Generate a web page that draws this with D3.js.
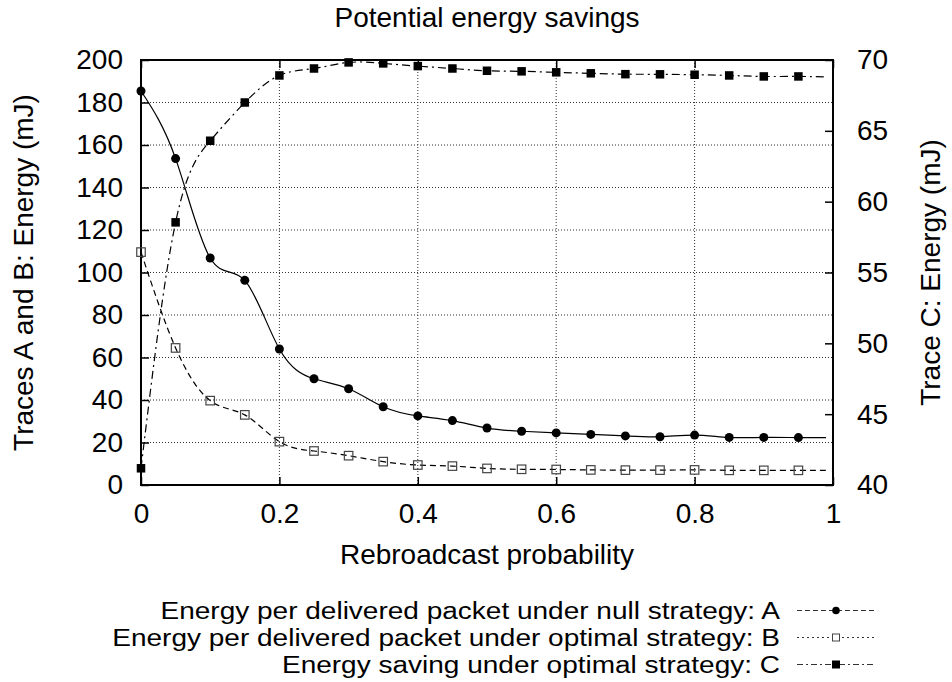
<!DOCTYPE html>
<html>
<head>
<meta charset="utf-8">
<script src="https://cdn.jsdelivr.net/npm/d3@7"></script>
<style>
  html, body { margin: 0; padding: 0; background: #fff; }
  svg { display: block; }
  text { font-family: "Liberation Sans", Arial, Helvetica, sans-serif; fill: #000; }
</style>
</head>
<body>
<svg id="chart" width="952" height="682"></svg>
<script>
// ---------------- data ----------------
const probabilities = [0, 0.05, 0.1, 0.15, 0.2, 0.25, 0.3, 0.35, 0.4, 0.45, 0.5, 0.55, 0.6, 0.65, 0.7, 0.75, 0.8, 0.85, 0.9, 0.95];
// Trace A: energy per delivered packet under null strategy (left axis, mJ)
const traceA = [185.4, 153.6, 106.8, 96.3, 64.0, 50.0, 45.3, 36.8, 32.5, 30.3, 26.8, 25.3, 24.5, 23.8, 23.1, 22.7, 23.5, 22.4, 22.4, 22.3];
// Trace B: energy per delivered packet under optimal strategy (left axis, mJ)
const traceB = [109.6, 64.5, 39.7, 33.0, 20.4, 16.0, 13.8, 11.0, 9.4, 8.9, 7.8, 7.4, 7.3, 7.1, 7.0, 7.0, 7.1, 6.9, 6.9, 6.9];
// Trace C: energy saving under optimal strategy (right axis, mJ)
const traceC = [41.18, 58.54, 64.3, 67.0, 68.91, 69.4, 69.83, 69.76, 69.57, 69.4, 69.24, 69.2, 69.13, 69.06, 69.0, 68.99, 68.96, 68.91, 68.84, 68.84];
// curves continue slightly past the last marker
const tailX = 0.99;
const tailA = 22.3, tailB = 6.9, tailC = 68.8;

const xTicks = [0, 0.2, 0.4, 0.6, 0.8, 1];
const xTickLabels = ["0", "0.2", "0.4", "0.6", "0.8", "1"];
const yLeftTicks = [0, 20, 40, 60, 80, 100, 120, 140, 160, 180, 200];
const yRightTicks = [40, 45, 50, 55, 60, 65, 70];

const titleText = "Potential energy savings";
const xLabel = "Rebroadcast probability";
const yLeftLabel = "Traces A and B: Energy (mJ)";
const yRightLabel = "Trace C: Energy (mJ)";
const legendLabels = [
  "Energy per delivered packet under null strategy: A",
  "Energy per delivered packet under optimal strategy: B",
  "Energy saving under optimal strategy: C"
];

// ---------------- layout ----------------
const FS = 28;
const L = 141, R = 833, T = 60, B = 485;
const svg = d3.select("#chart");
svg.append("rect").attr("width", 952).attr("height", 682).attr("fill", "#fff");

const x = d3.scaleLinear().domain([0, 1]).range([L, R]);
const yL = d3.scaleLinear().domain([0, 200]).range([B, T]);
const yR = d3.scaleLinear().domain([40, 70]).range([B, T]);

// grid
const grid = svg.append("g").attr("class", "grid");
grid.selectAll("line.gx").data(xTicks.filter(d => d > 0 && d < 1)).join("line")
  .attr("x1", d => x(d)).attr("x2", d => x(d)).attr("y1", T).attr("y2", B)
  .attr("stroke", "#333").attr("stroke-width", 1).attr("stroke-dasharray", "1,2");
grid.selectAll("line.gy").data(yLeftTicks.filter(d => d > 0 && d < 200)).join("line")
  .attr("x1", L).attr("x2", R).attr("y1", d => yL(d)).attr("y2", d => yL(d))
  .attr("stroke", "#333").attr("stroke-width", 1).attr("stroke-dasharray", "1,2");

// axes
function styleAxis(g) {
  g.select(".domain").remove();
  g.selectAll(".tick line").attr("stroke", "#000").attr("stroke-width", 1.5);
  g.selectAll(".tick text").attr("font-size", FS).attr("font-family", "Liberation Sans, Arial, sans-serif");
}
svg.append("g").attr("transform", `translate(${L},0)`)
  .call(d3.axisLeft(yL).tickValues(yLeftTicks).tickFormat(d3.format("d")).tickSizeInner(-8).tickSizeOuter(0).tickPadding(18))
  .call(styleAxis);
svg.append("g").attr("transform", `translate(${R},0)`)
  .call(d3.axisRight(yR).tickValues(yRightTicks).tickFormat(d3.format("d")).tickSizeInner(-8).tickSizeOuter(0).tickPadding(24))
  .call(styleAxis);
svg.append("g").attr("transform", `translate(0,${B})`)
  .call(d3.axisBottom(x).tickValues(xTicks).tickFormat((d, i) => xTickLabels[i]).tickSizeInner(-8).tickSizeOuter(0).tickPadding(18))
  .call(styleAxis);
svg.append("g").attr("transform", `translate(0,${T})`)
  .call(d3.axisTop(x).tickValues(xTicks).tickFormat("").tickSizeInner(-8).tickSizeOuter(0))
  .call(styleAxis);

// border
svg.append("rect").attr("x", L).attr("y", T).attr("width", R - L).attr("height", B - T)
  .attr("fill", "none").attr("stroke", "#000").attr("stroke-width", 2);

// series
const xsLine = probabilities.concat([tailX]);
function series(vals, tail, scale) {
  return xsLine.map((p, i) => [x(p), scale(i < vals.length ? vals[i] : tail)]);
}
const line = d3.line().curve(d3.curveNatural);
const plot = svg.append("g");
plot.append("path").attr("d", line(series(traceA, tailA, yL)))
  .attr("fill", "none").attr("stroke", "#000").attr("stroke-width", 1.2);
plot.append("path").attr("d", line(series(traceB, tailB, yL)))
  .attr("fill", "none").attr("stroke", "#000").attr("stroke-width", 1.2).attr("stroke-dasharray", "6,4");
plot.append("path").attr("d", line(series(traceC, tailC, yR)))
  .attr("fill", "none").attr("stroke", "#000").attr("stroke-width", 1.2).attr("stroke-dasharray", "8,4,2,4");

// markers
plot.selectAll("circle.a").data(probabilities).join("circle")
  .attr("cx", d => x(d)).attr("cy", (d, i) => yL(traceA[i])).attr("r", 4.5).attr("fill", "#000");
const sB = 8.5;
plot.selectAll("rect.b").data(probabilities).join("rect")
  .attr("x", d => x(d) - sB / 2).attr("y", (d, i) => yL(traceB[i]) - sB / 2)
  .attr("width", sB).attr("height", sB).attr("fill", "none").attr("stroke", "#444").attr("stroke-width", 1.2);
const sC = 8.5;
plot.selectAll("rect.c").data(probabilities).join("rect")
  .attr("x", d => x(d) - sC / 2).attr("y", (d, i) => yR(traceC[i]) - sC / 2)
  .attr("width", sC).attr("height", sC).attr("fill", "#000");

// titles
svg.append("text").attr("x", (L + R) / 2).attr("y", 27).attr("text-anchor", "middle")
  .attr("font-size", FS).text(titleText);
svg.append("text").attr("x", (L + R) / 2).attr("y", 564).attr("text-anchor", "middle")
  .attr("font-size", FS).text(xLabel);
svg.append("text").attr("transform", `translate(33,${(T + B) / 2}) rotate(-90)`).attr("text-anchor", "middle")
  .attr("font-size", FS).text(yLeftLabel);
svg.append("text").attr("transform", `translate(940,${(T + B) / 2}) rotate(-90)`).attr("text-anchor", "middle")
  .attr("font-size", FS).text(yRightLabel);

// legend (slightly smaller glyph height, same width as the 28px text, so rows don't collide)
const legRows = [610.5, 637.5, 664.5];
const legX1 = 797, legX2 = 875, legXm = 836, legTextX = 780;
const legDash = ["5,3", "2,3", "6,3,2,3"];
const LFS = 23.5;
const leg = svg.append("g");
legendLabels.forEach((lab, i) => {
  const yy = legRows[i];
  const t = leg.append("text").attr("x", legTextX).attr("y", yy + 8.5).attr("text-anchor", "end")
    .attr("font-size", FS).text(lab);
  const w = t.node().getComputedTextLength();
  t.attr("font-size", LFS).attr("textLength", w).attr("lengthAdjust", "spacingAndGlyphs");
  leg.append("line").attr("x1", legX1).attr("x2", legX2).attr("y1", yy).attr("y2", yy)
    .attr("stroke", "#333").attr("stroke-width", 1).attr("stroke-dasharray", legDash[i]);
});
leg.append("circle").attr("cx", legXm).attr("cy", legRows[0]).attr("r", 3.8).attr("fill", "#000");
leg.append("rect").attr("x", legXm - 3.5).attr("y", legRows[1] - 3.5).attr("width", 7).attr("height", 7)
  .attr("fill", "#fff").attr("stroke", "#444").attr("stroke-width", 1);
leg.append("rect").attr("x", legXm - 4).attr("y", legRows[2] - 4).attr("width", 8).attr("height", 8).attr("fill", "#000");
</script>
</body>
</html>
